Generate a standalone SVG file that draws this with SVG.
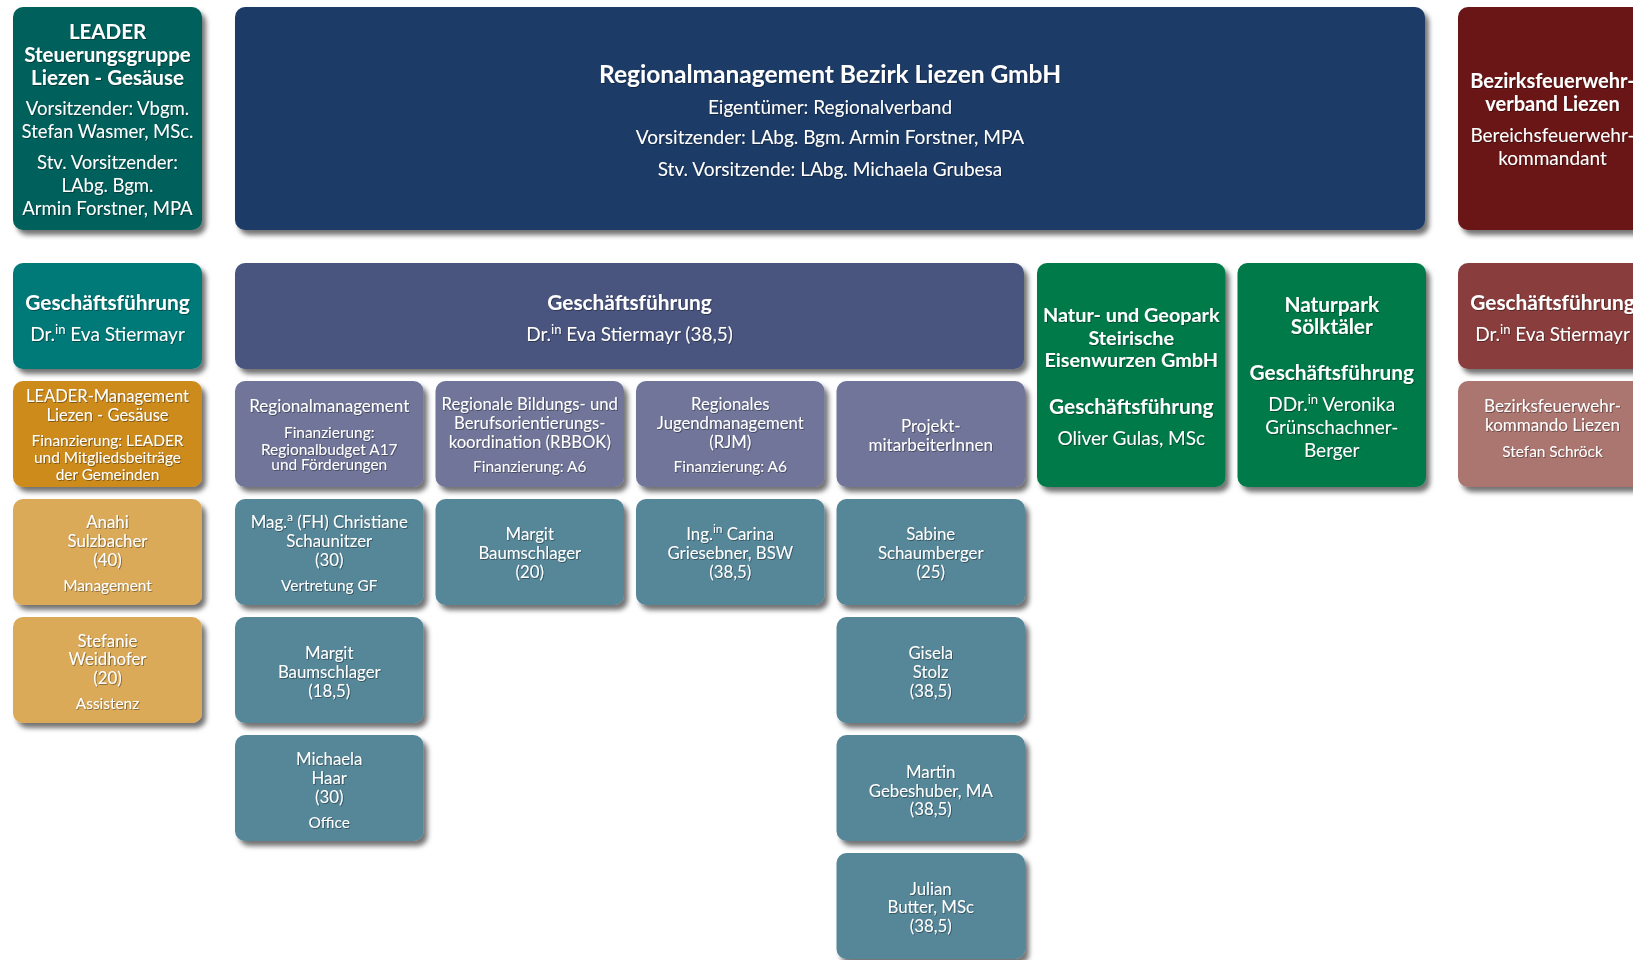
<svg xmlns="http://www.w3.org/2000/svg" width="1633" height="960" viewBox="0 0 1633 960">
<defs>
<filter id="sh" x="-10%" y="-10%" width="125%" height="130%">
<feDropShadow dx="4" dy="5" stdDeviation="2.5" flood-color="#000" flood-opacity="0.55"/>
</filter>
<filter id="ts" x="-5%" y="-20%" width="110%" height="150%">
<feDropShadow dx="0.8" dy="0.8" stdDeviation="0.5" flood-color="#000" flood-opacity="0.45"/>
</filter>
<style>
.box{filter:url(#sh)}
text{font-family:Lato,"Liberation Sans",sans-serif;fill:#fff;text-anchor:middle;filter:url(#ts)}
.b{font-weight:bold}
.ht{font-size:20.5px}.hb{font-size:18.5px}
.t24{font-size:24.5px}.t19{font-size:19px}.t20{font-size:20px}.t21{font-size:20.8px}
.m17{font-size:17px}.m165{font-size:16.5px}.s155{font-size:15.4px}.n168{font-size:16.8px}
.c-leader{fill:#04615c}.c-blue{fill:#1c3b66}.c-red{fill:#6a1418}.c-teal{fill:#027a78}.c-orange{fill:#cd8b1f}.c-gold{fill:#dbaa59}.c-navy{fill:#48557f}.c-lilac{fill:#6f7599}.c-staff{fill:#568799}.c-green{fill:#007a48}.c-redgf{fill:#8a3e3e}.c-pink{fill:#ab7470}
</style>
</defs>
<rect width="1633" height="960" fill="#fff"/>
<g id="connectors"/>

<g id="leader-steuerungsgruppe">
<rect class="box c-leader" x="13" y="7" width="189" height="223" rx="10"/>
<text class="b ht" x="107.5" y="38.5">LEADER</text>
<text class="b ht" x="107.5" y="61.5">Steuerungsgruppe</text>
<text class="b ht" x="107.5" y="84.5">Liezen - Gesäuse</text>
<text class="hb" x="107.5" y="114.5">Vorsitzender: Vbgm.</text>
<text class="hb" x="107.5" y="137.5">Stefan Wasmer, MSc.</text>
<text class="hb" x="107.5" y="169">Stv. Vorsitzender:</text>
<text class="hb" x="107.5" y="191.5">LAbg. Bgm.</text>
<text class="hb" x="107.5" y="214.5">Armin Forstner, MPA</text>
</g>

<g id="regionalmanagement-gmbh">
<rect class="box c-blue" x="235" y="7" width="1190" height="223" rx="10"/>
<text class="b t24" x="830" y="82.5">Regionalmanagement Bezirk Liezen GmbH</text>
<text class="t19" x="830" y="113.5">Eigentümer: Regionalverband</text>
<text class="t19" x="830" y="144">Vorsitzender: LAbg. Bgm. Armin Forstner, MPA</text>
<text class="t19" x="830" y="175.5">Stv. Vorsitzende: LAbg. Michaela Grubesa</text>
</g>

<g id="bezirksfeuerwehrverband">
<rect class="box c-red" x="1458" y="7" width="189" height="223" rx="10"/>
<text class="b t20" x="1552.5" y="88">Bezirksfeuerwehr-</text>
<text class="b t20" x="1552.5" y="111">verband Liezen</text>
<text class="t19" x="1552.5" y="142">Bereichsfeuerwehr-</text>
<text class="t19" x="1552.5" y="164.5">kommandant</text>
</g>

<g id="gf-leader">
<rect class="box c-teal" x="13" y="263" width="189" height="106" rx="10"/>
<text class="b t21" x="107.5" y="309.5">Geschäftsführung</text>
<text class="t19" x="107.5" y="340.5">Dr.<tspan font-size="13" dy="-7">in</tspan><tspan dy="7"> Eva Stiermayr</tspan></text>
</g>

<g id="gf-regionalmanagement">
<rect class="box c-navy" x="235" y="263" width="789" height="106" rx="10"/>
<text class="b t21" x="629.5" y="309.5">Geschäftsführung</text>
<text class="t19" x="629.5" y="340.5">Dr.<tspan font-size="13" dy="-7">in</tspan><tspan dy="7"> Eva Stiermayr (38,5)</tspan></text>
</g>

<g id="naturpark-eisenwurzen">
<rect class="box c-green" x="1037" y="263" width="188.5" height="224" rx="10"/>
<text class="b" font-size="19.8" x="1131.25" y="321.5">Natur- und Geopark</text>
<text class="b" font-size="19.8" x="1131.25" y="344.5">Steirische</text>
<text class="b" font-size="19.8" x="1131.25" y="367">Eisenwurzen GmbH</text>
<text class="b t21" x="1131.25" y="413.5">Geschäftsführung</text>
<text class="t19" x="1131.25" y="445">Oliver Gulas, MSc</text>
</g>

<g id="naturpark-soelktaeler">
<rect class="box c-green" x="1237.5" y="263" width="188.5" height="224" rx="10"/>
<text class="b t21" x="1331.75" y="311.5">Naturpark</text>
<text class="b t21" x="1331.75" y="333.5">Sölktäler</text>
<text class="b t21" x="1331.75" y="379.5">Geschäftsführung</text>
<text class="t19" x="1331.75" y="410.5">DDr.<tspan font-size="13" dy="-7">in</tspan><tspan dy="7"> Veronika</tspan></text>
<text class="t19" x="1331.75" y="433.5">Grünschachner-</text>
<text class="t19" x="1331.75" y="456.5">Berger</text>
</g>

<g id="gf-feuerwehr">
<rect class="box c-redgf" x="1458" y="263" width="189" height="106" rx="10"/>
<text class="b t21" x="1552.5" y="309.5">Geschäftsführung</text>
<text class="t19" x="1552.5" y="340.5">Dr.<tspan font-size="13" dy="-7">in</tspan><tspan dy="7"> Eva Stiermayr</tspan></text>
</g>

<g id="bezirksfeuerwehrkommando">
<rect class="box c-pink" x="1458" y="381" width="189" height="106" rx="10"/>
<text class="m17" x="1552.5" y="412">Bezirksfeuerwehr-</text>
<text class="m17" x="1552.5" y="431">kommando Liezen</text>
<text class="s155" x="1552.5" y="456.5">Stefan Schröck</text>
</g>

<g id="leader-management">
<rect class="box c-orange" x="13" y="381" width="189" height="106" rx="10"/>
<text class="m165" x="107.5" y="402">LEADER-Management</text>
<text class="m165" x="107.5" y="420.5">Liezen - Gesäuse</text>
<text class="s155" x="107.5" y="446">Finanzierung: LEADER</text>
<text class="s155" x="107.5" y="462.5">und Mitgliedsbeiträge</text>
<text class="s155" x="107.5" y="479.5">der Gemeinden</text>
</g>

<g id="regionalmanagement">
<rect class="box c-lilac" x="235" y="381" width="188.5" height="106" rx="10"/>
<text class="m17" x="329.25" y="412">Regionalmanagement</text>
<text class="s155" x="329.25" y="437.5">Finanzierung:</text>
<text class="s155" x="329.25" y="454.5">Regionalbudget A17</text>
<text class="s155" x="329.25" y="470">und Förderungen</text>
</g>

<g id="rbbok">
<rect class="box c-lilac" x="435.5" y="381" width="188.5" height="106" rx="10"/>
<text font-size="16.7" x="529.75" y="410">Regionale Bildungs- und</text>
<text font-size="16.7" x="529.75" y="429">Berufsorientierungs-</text>
<text font-size="16.7" x="529.75" y="447.5">koordination (RBBOK)</text>
<text class="s155" x="529.75" y="472">Finanzierung: A6</text>
</g>

<g id="rjm">
<rect class="box c-lilac" x="636" y="381" width="188.5" height="106" rx="10"/>
<text font-size="16.7" x="730.25" y="410">Regionales</text>
<text font-size="16.7" x="730.25" y="429">Jugendmanagement</text>
<text font-size="16.7" x="730.25" y="447.5">(RJM)</text>
<text class="s155" x="730.25" y="472">Finanzierung: A6</text>
</g>

<g id="projektmitarbeiter">
<rect class="box c-lilac" x="836.5" y="381" width="188.5" height="106" rx="10"/>
<text class="m17" x="930.75" y="432">Projekt-</text>
<text class="m17" x="930.75" y="450.5">mitarbeiterInnen</text>
</g>

<g id="sulzbacher">
<rect class="box c-gold" x="13" y="499" width="189" height="106" rx="10"/>
<text class="n168" x="107.5" y="528">Anahi</text>
<text class="n168" x="107.5" y="546.5">Sulzbacher</text>
<text class="n168" x="107.5" y="566">(40)</text>
<text class="s155" x="107.5" y="590.5">Management</text>
</g>

<g id="weidhofer">
<rect class="box c-gold" x="13" y="617" width="189" height="106" rx="10"/>
<text class="n168" x="107.5" y="646.5">Stefanie</text>
<text class="n168" x="107.5" y="665">Weidhofer</text>
<text class="n168" x="107.5" y="684">(20)</text>
<text class="s155" x="107.5" y="708.5">Assistenz</text>
</g>

<g id="schaunitzer">
<rect class="box c-staff" x="235" y="499" width="188.5" height="106" rx="10"/>
<text class="n168" x="329.25" y="528">Mag.<tspan font-size="12" dy="-7">a</tspan><tspan dy="7"> (FH) Christiane</tspan></text>
<text class="n168" x="329.25" y="546.5">Schaunitzer</text>
<text class="n168" x="329.25" y="566">(30)</text>
<text class="s155" x="329.25" y="590.5">Vertretung GF</text>
</g>

<g id="baumschlager-185">
<rect class="box c-staff" x="235" y="617" width="188.5" height="106" rx="10"/>
<text class="n168" x="329.25" y="659">Margit</text>
<text class="n168" x="329.25" y="678">Baumschlager</text>
<text class="n168" x="329.25" y="696.5">(18,5)</text>
</g>

<g id="haar">
<rect class="box c-staff" x="235" y="735" width="188.5" height="106" rx="10"/>
<text class="n168" x="329.25" y="765">Michaela</text>
<text class="n168" x="329.25" y="784">Haar</text>
<text class="n168" x="329.25" y="803">(30)</text>
<text class="s155" x="329.25" y="827.5">Office</text>
</g>

<g id="baumschlager-20">
<rect class="box c-staff" x="435.5" y="499" width="188.5" height="106" rx="10"/>
<text class="n168" x="529.75" y="540">Margit</text>
<text class="n168" x="529.75" y="559">Baumschlager</text>
<text class="n168" x="529.75" y="578">(20)</text>
</g>

<g id="griesebner">
<rect class="box c-staff" x="636" y="499" width="188.5" height="106" rx="10"/>
<text class="n168" x="730.25" y="540">Ing.<tspan font-size="12" dy="-7">in</tspan><tspan dy="7"> Carina</tspan></text>
<text class="n168" x="730.25" y="559">Griesebner, BSW</text>
<text class="n168" x="730.25" y="578">(38,5)</text>
</g>

<g id="schaumberger">
<rect class="box c-staff" x="836.5" y="499" width="188.5" height="106" rx="10"/>
<text class="n168" x="930.75" y="540">Sabine</text>
<text class="n168" x="930.75" y="559">Schaumberger</text>
<text class="n168" x="930.75" y="578">(25)</text>
</g>

<g id="stolz">
<rect class="box c-staff" x="836.5" y="617" width="188.5" height="106" rx="10"/>
<text class="n168" x="930.75" y="659">Gisela</text>
<text class="n168" x="930.75" y="678">Stolz</text>
<text class="n168" x="930.75" y="696.5">(38,5)</text>
</g>

<g id="gebeshuber">
<rect class="box c-staff" x="836.5" y="735" width="188.5" height="106" rx="10"/>
<text class="n168" x="930.75" y="778">Martin</text>
<text class="n168" x="930.75" y="796.5">Gebeshuber, MA</text>
<text class="n168" x="930.75" y="815">(38,5)</text>
</g>

<g id="butter">
<rect class="box c-staff" x="836.5" y="853" width="188.5" height="106" rx="10"/>
<text class="n168" x="930.75" y="894.5">Julian</text>
<text class="n168" x="930.75" y="913">Butter, MSc</text>
<text class="n168" x="930.75" y="932">(38,5)</text>
</g>
</svg>
